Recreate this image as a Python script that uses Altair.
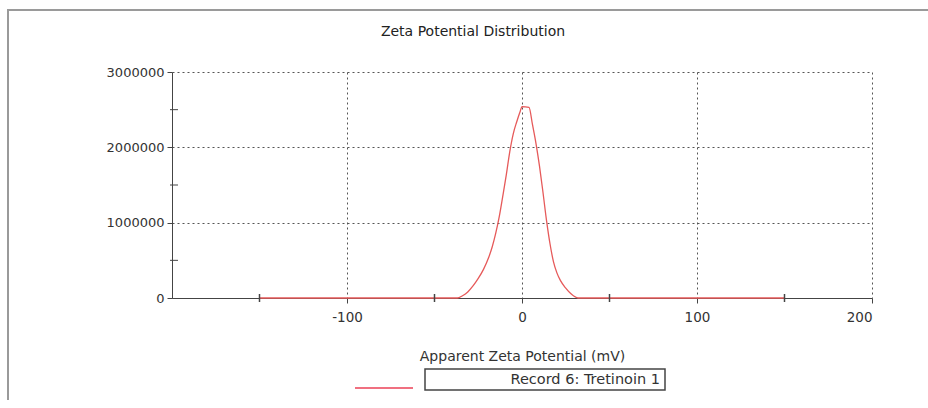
import altair as alt
import pandas as pd

# Zeta potential distribution (mV vs. total counts)
zeta_mv = [-150, -37, -34, -31, -28, -25, -22, -19, -17, -15, -13, -11, -9, -7, -5, -3, -1, 0,
           4, 6, 8, 10, 12, 14, 16, 18, 20, 22, 25, 28, 32, 150]
counts = [0, 0, 30000, 80000, 160000, 260000, 380000, 540000, 680000, 860000, 1080000,
          1350000, 1630000, 1940000, 2180000, 2340000, 2480000, 2540000,
          2530000, 2300000, 2050000, 1750000, 1400000, 1030000, 720000, 480000, 330000,
          230000, 130000, 55000, 0, 0]

x_major = [-100, 0, 100, 200]
x_minor = [-150, -50, 50, 150]
y_major = [0, 1000000, 2000000, 3000000]
y_minor = [500000, 1500000, 2500000]

series_name = "Record 6: Tretinoin 1"
chart_title = "Zeta Potential Distribution"
x_title = "Apparent Zeta Potential (mV)"

FONT = "DejaVu Sans"
W, H = 700, 226
PAD = {"left": 172, "top": 72, "right": 56, "bottom": 102}

df = pd.DataFrame({"zeta": zeta_mv, "counts": counts})

xscale = alt.Scale(domain=[-200, 200], nice=False, zero=False)
yscale = alt.Scale(domain=[0, 3000000], nice=False)

curve = alt.Chart(df).mark_line(color="#e65a5a", strokeWidth=1.3, interpolate="monotone").encode(
    x=alt.X("zeta:Q", scale=xscale,
            axis=alt.Axis(values=x_major, title=x_title, labelExpr="'' + datum.value",
                          grid=True, gridDash=[2, 3], gridColor="#555", gridWidth=1,
                          domainColor="#444", tickColor="#444", tickSize=5,
                          labelPadding=7, titlePadding=26, labelFont=FONT,
                          titleFont=FONT, labelFontSize=13.5, titleFontSize=14,
                          titleFontWeight="normal", labelColor="#333", titleColor="#333")),
    y=alt.Y("counts:Q", scale=yscale,
            axis=alt.Axis(values=y_major, title=None, format="d", grid=True,
                          gridDash=[2, 3], gridColor="#555", gridWidth=1,
                          domainColor="#444", tickColor="#444", tickSize=5,
                          labelPadding=3, labelFont=FONT, labelFontSize=13,
                          labelColor="#333")),
)

# minor ticks crossing the axes
yminor = alt.Chart(pd.DataFrame({"v": y_minor})).mark_rule(color="#444", strokeWidth=1).encode(
    y=alt.Y("v:Q", scale=yscale), x=alt.value(-2), x2=alt.value(6))
xminor = alt.Chart(pd.DataFrame({"v": x_minor})).mark_rule(color="#444", strokeWidth=1.5).encode(
    x=alt.X("v:Q", scale=xscale), y=alt.value(H - 4), y2=alt.value(H + 4))

one = pd.DataFrame({"a": [0]})

# outer frame of the report panel (top and left edges, running off the page)
frame_top = alt.Chart(one).mark_rule(color="#9a9a9a", strokeWidth=2).encode(
    x=alt.value(-165), x2=alt.value(W + PAD["right"]), y=alt.value(-62))
frame_left = alt.Chart(one).mark_rule(color="#9a9a9a", strokeWidth=2).encode(
    x=alt.value(-164), y=alt.value(-63), y2=alt.value(H + PAD["bottom"]))

# legend: line sample and boxed label
leg_line = alt.Chart(one).mark_rule(color="#f07080", strokeWidth=2).encode(
    x=alt.value(183), x2=alt.value(241), y=alt.value(316))
leg_box = alt.Chart(one).mark_rect(fill="white", stroke="#444", strokeWidth=1.5).encode(
    x=alt.value(253), x2=alt.value(493), y=alt.value(297), y2=alt.value(318))
leg_text = alt.Chart(pd.DataFrame({"t": [series_name]})).mark_text(
    align="right", baseline="middle", font=FONT, fontSize=14.5, color="#333").encode(
    text="t:N", x=alt.value(488), y=alt.value(308))

title_text = alt.Chart(pd.DataFrame({"t": [chart_title]})).mark_text(
    align="center", baseline="middle", font=FONT, fontSize=14, color="#222").encode(
    text="t:N", x=alt.value(301), y=alt.value(-40))

chart = alt.layer(frame_top, frame_left, curve, yminor, xminor, leg_line, leg_box,
                  leg_text, title_text).properties(
    width=W, height=H,
    autosize=alt.AutoSizeParams(type="none"),
    padding=PAD,
    background="white",
).configure_view(stroke=None)

chart.save("out.html", embed_options={"renderer": "svg", "actions": False})
